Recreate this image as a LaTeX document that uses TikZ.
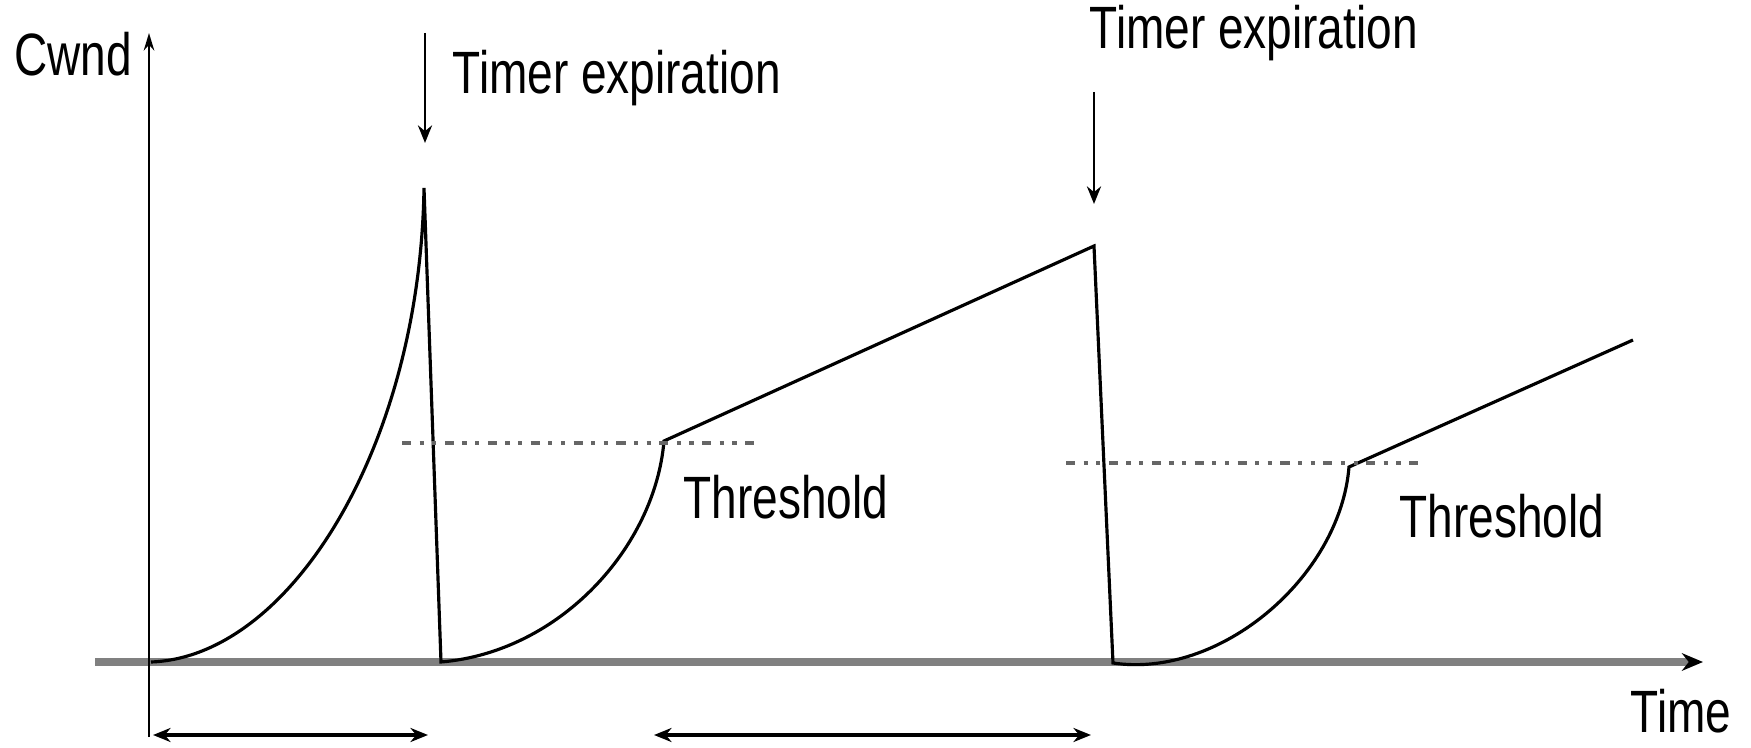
\documentclass[tikz,border=0pt]{standalone}
\usepackage{fontspec}
\setmainfont{Liberation Sans}[FakeStretch=0.77]
\usepackage{tikz}
\usetikzlibrary{arrows.meta, positioning}

\begin{document}
\begin{tikzpicture}[
    lbl/.style={inner sep=0pt, font=\fontsize{17}{20}\selectfont},
    curve/.style={line width=0.9pt},
    thresh/.style={black!60, line width=1pt,
      dash pattern=on 2.6pt off 2.4pt on 1.2pt off 2.4pt on 1.2pt off 2.4pt}]
  \useasboundingbox (0,0) rectangle (17.51,7.47);
  % Axes
  \coordinate (ybot) at (1.49,0.10); \coordinate (ytop) at (1.49,7.14);
  \coordinate (xl) at (0.95,0.85);   \coordinate (xr) at (17.03,0.85);
  \draw[line width=2.2pt, gray, -{Stealth[length=6pt, width=5pt, black]}] (xl)--(xr);
  \draw[line width=0.6pt, -{Stealth[length=5pt, width=3pt]}] (ybot)--(ytop);
  \node[lbl] (cwnd) at (0.73,6.93) {Cwnd};
  \node[lbl, anchor=west] (time) at (16.30,0.36) {Time};

  % Cwnd trace
  \coordinate (s1) at (1.51,0.85);  \coordinate (p1) at (4.24,5.59);
  \coordinate (s2) at (4.41,0.85);  \coordinate (t1) at (6.64,3.06);
  \coordinate (p2) at (10.94,5.01); \coordinate (s3) at (11.13,0.84);
  \coordinate (t2) at (13.49,2.80); \coordinate (e3) at (16.33,4.07);
  \draw[curve] (s1) .. controls (2.9,0.9) and (4.2,3.0) .. (p1) -- (s2)
    .. controls (5.6,0.95) and (6.55,2.0) .. (t1) -- (p2) -- (s3)
    .. controls (12.2,0.68) and (13.4,1.7) .. (t2) -- (e3);

  % Thresholds
  \coordinate (h1a) at (4.02,3.04);  \coordinate (h1b) at (7.59,3.04);
  \coordinate (h2a) at (10.66,2.84); \coordinate (h2b) at (14.20,2.84);
  \draw[thresh] (h1a)--(h1b);
  \draw[thresh] (h2a)--(h2b);
  \node[lbl, anchor=west] (th1) at (6.83,2.50) {Threshold};
  \node[lbl, anchor=west] (th2) at (13.99,2.31) {Threshold};

  % Timer expirations
  \node[lbl, anchor=west] (tm1) at (4.52,6.69) {Timer expiration};
  \node[lbl, anchor=west] (tm2) at (10.89,7.14) {Timer expiration};
  \coordinate (a1a) at (4.25,7.14);  \coordinate (a1b) at (4.25,6.04);
  \coordinate (a2a) at (10.94,6.55); \coordinate (a2b) at (10.94,5.43);
  \draw[line width=0.8pt, -{Stealth[length=5pt, width=4pt]}] (a1a)--(a1b);
  \draw[line width=0.8pt, -{Stealth[length=5pt, width=4pt]}] (a2a)--(a2b);

  % Intervals
  \coordinate (i1a) at (1.53,0.12); \coordinate (i1b) at (4.28,0.12);
  \coordinate (i2a) at (6.54,0.12); \coordinate (i2b) at (10.91,0.12);
  \draw[line width=1.4pt, {Stealth[length=5pt, width=4pt]}-{Stealth[length=5pt, width=4pt]}] (i1a)--(i1b);
  \draw[line width=1.4pt, {Stealth[length=5pt, width=4pt]}-{Stealth[length=5pt, width=4pt]}] (i2a)--(i2b);
\end{tikzpicture}
\end{document}
